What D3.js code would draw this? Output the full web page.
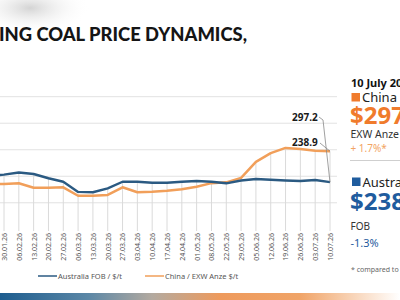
<!DOCTYPE html>
<html>
<head>
<meta charset="utf-8">
<script src="https://cdn.jsdelivr.net/npm/d3@7"></script>
<style>
  body { margin: 0; background: #fff; }
  svg { display: block; }
</style>
</head>
<body>
<div id="coal-chart"></div>
<script>
// Weekly dates (the first one sits just off the left edge of the crop)
const dates = ["23.01.26", "30.01.26", "06.02.26", "13.02.26", "20.02.26", "27.02.26",
  "06.03.26", "13.03.26", "20.03.26", "27.03.26", "03.04.26", "10.04.26", "17.04.26",
  "24.04.26", "01.05.26", "08.05.26", "22.05.26", "29.05.26", "05.06.26", "12.06.26",
  "19.06.26", "26.06.26", "03.07.26", "10.07.26"];

const australiaFob = [251, 253, 257, 254.3, 246.2, 239.7, 220.5, 219.8, 227.3, 239.7,
  239.7, 237.9, 237.9, 239.7, 241, 239.7, 236.7, 242, 244.8, 243.3, 242, 241, 243, 238.9];

const chinaAnze = [235.4, 235.4, 236.7, 228.4, 228.4, 229.2, 213.3, 213.3, 214.7, 229.2,
  219.8, 220.9, 222.8, 225.4, 230.3, 237, 238.5, 247, 277, 293.5, 303.5, 301.4, 298.2, 297.2];

const yTicks = [200, 250, 300, 350, 400];
const lastLabels = ["297.2", "238.9"];

const seriesNames = ["Australia FOB / $/t", "China / EXW Anze $/t"];

const width = 400;
const height = 300;

const svg = d3.select("#coal-chart")
  .append("svg")
  .attr("width", width)
  .attr("height", height);

const defs = svg.append("defs");

// smoky gray patch top-left
const smoke = defs.append("radialGradient").attr("id", "smoke");
smoke.append("stop").attr("offset", "0%").attr("stop-color", "#c9c9c9").attr("stop-opacity", 0.8);
smoke.append("stop").attr("offset", "100%").attr("stop-color", "#ffffff").attr("stop-opacity", 0);

svg.append("ellipse")
  .attr("cx", 30).attr("cy", 8)
  .attr("rx", 60).attr("ry", 26)
  .attr("fill", "url(#smoke)");

// bottom colour band
const band = defs.append("linearGradient").attr("id", "band");
band.append("stop").attr("offset", "0%").attr("stop-color", "#1d5d8f");
band.append("stop").attr("offset", "22%").attr("stop-color", "#5b87a6");
band.append("stop").attr("offset", "38%").attr("stop-color", "#b3aaa0");
band.append("stop").attr("offset", "55%").attr("stop-color", "#ee9a5c");
band.append("stop").attr("offset", "75%").attr("stop-color", "#f0a468");
band.append("stop").attr("offset", "100%").attr("stop-color", "#ffffff");

svg.append("rect")
  .attr("x", 0).attr("y", 293)
  .attr("width", width).attr("height", 7)
  .attr("fill", "url(#band)");

// Title (cropped on the left in the original)
svg.append("text")
  .attr("x", -1)
  .attr("y", 41)
  .attr("font-family", "Lato, sans-serif")
  .attr("font-weight", 900)
  .attr("font-size", "19px")
  .attr("fill", "#151515")
  .attr("textLength", 248)
  .attr("lengthAdjust", "spacingAndGlyphs")
  .text("ING COAL PRICE DYNAMICS,");

// Scales
const x = d3.scalePoint()
  .domain(dates)
  .range([4 - 326 / 22, 330]);

const y = d3.scaleLinear()
  .domain([150, 400])
  .range([229.3, 96.7]);

const plotBottom = 231;

// Horizontal gridlines
svg.append("g")
  .selectAll("line")
  .data(yTicks)
  .enter().append("line")
  .attr("x1", 0)
  .attr("x2", 337)
  .attr("y1", d => y(d))
  .attr("y2", d => y(d))
  .attr("stroke", "#e2e2e2")
  .attr("stroke-width", 1);

// Drop lines from the upper series down to the axis
svg.append("g")
  .selectAll("line")
  .data(dates)
  .enter().append("line")
  .attr("x1", d => x(d))
  .attr("x2", d => x(d))
  .attr("y1", (d, i) => y(Math.max(australiaFob[i], chinaAnze[i])))
  .attr("y2", plotBottom)
  .attr("stroke", "#dadada")
  .attr("stroke-width", 1);

// X axis with rotated labels
const xAxis = svg.append("g")
  .attr("transform", `translate(0,${plotBottom})`)
  .call(d3.axisBottom(x).tickSize(0).tickPadding(0));

xAxis.select(".domain").remove();
xAxis.selectAll("text")
  .attr("transform", "rotate(-90)")
  .attr("x", -2)
  .attr("y", 0)
  .attr("dy", "0.35em")
  .style("text-anchor", "end")
  .attr("font-family", "'Noto Sans', sans-serif")
  .attr("font-size", "7px")
  .attr("fill", "#555");

// Lines
const line = d3.line()
  .x(d => x(d.date))
  .y(d => y(d.value));

const chinaData = dates.map((d, i) => ({ date: d, value: chinaAnze[i] }));
const ausData = dates.map((d, i) => ({ date: d, value: australiaFob[i] }));

svg.append("path")
  .datum(chinaData)
  .attr("fill", "none")
  .attr("stroke", "#f19f5a")
  .attr("stroke-width", 2.5)
  .attr("stroke-linejoin", "round")
  .attr("d", line);

svg.append("path")
  .datum(ausData)
  .attr("fill", "none")
  .attr("stroke", "#2b5a82")
  .attr("stroke-width", 2.4)
  .attr("stroke-linejoin", "round")
  .attr("d", line);

// End labels with leader lines (as drawn in the original)
const lastDate = dates[dates.length - 1];
const lastX = x(lastDate);

svg.append("path")
  .attr("d", `M319,117 L323,120 L${lastX},${y(australiaFob[australiaFob.length - 1])}`)
  .attr("fill", "none")
  .attr("stroke", "#888")
  .attr("stroke-width", 0.8);

svg.append("path")
  .attr("d", `M320,143 L${lastX},${y(chinaAnze[chinaAnze.length - 1])}`)
  .attr("fill", "none")
  .attr("stroke", "#888")
  .attr("stroke-width", 0.8);

svg.append("text")
  .attr("x", 292)
  .attr("y", 121)
  .attr("font-family", "'Noto Sans', sans-serif")
  .attr("font-weight", "bold")
  .attr("font-size", "10px")
  .attr("fill", "#1a1a1a")
  .text(lastLabels[0]);

svg.append("text")
  .attr("x", 292)
  .attr("y", 146)
  .attr("font-family", "'Noto Sans', sans-serif")
  .attr("font-weight", "bold")
  .attr("font-size", "10px")
  .attr("fill", "#1a1a1a")
  .text(lastLabels[1]);

// Legend
const legend = svg.append("g")
  .attr("transform", "translate(38,276)");

legend.append("line")
  .attr("x1", 0).attr("x2", 19)
  .attr("y1", 0).attr("y2", 0)
  .attr("stroke", "#2b5a82")
  .attr("stroke-width", 1.5);
legend.append("text")
  .attr("x", 20)
  .attr("y", 2.6)
  .attr("font-family", "'Noto Sans', sans-serif")
  .attr("font-size", "7.5px")
  .attr("fill", "#555")
  .text(seriesNames[0]);

legend.append("line")
  .attr("x1", 107).attr("x2", 126)
  .attr("y1", 0).attr("y2", 0)
  .attr("stroke", "#f19f5a")
  .attr("stroke-width", 1.5);
legend.append("text")
  .attr("x", 127)
  .attr("y", 2.6)
  .attr("font-family", "'Noto Sans', sans-serif")
  .attr("font-size", "7.5px")
  .attr("fill", "#555")
  .text(seriesNames[1]);

// Right-hand summary panel
const panel = svg.append("g")
  .attr("transform", "translate(350,0)");

panel.append("text")
  .attr("x", 1).attr("y", 87)
  .attr("font-family", "'Noto Sans', sans-serif")
  .attr("font-weight", "bold")
  .attr("font-size", "11px")
  .attr("fill", "#111")
  .text("10 July 2026");

panel.append("rect")
  .attr("x", 1.5).attr("y", 93)
  .attr("width", 8.5).attr("height", 8.5)
  .attr("fill", "#f07b2c");

panel.append("text")
  .attr("x", 12).attr("y", 102)
  .attr("font-family", "'Noto Sans', sans-serif")
  .attr("font-size", "13px")
  .attr("fill", "#222")
  .text("China");

panel.append("text")
  .attr("x", 0).attr("y", 124)
  .attr("font-family", "'Noto Sans', sans-serif")
  .attr("font-weight", "bold")
  .attr("font-size", "24px")
  .attr("fill", "#f07b2c")
  .text("$297.2");

panel.append("text")
  .attr("x", 0.5).attr("y", 138)
  .attr("font-family", "'Noto Sans', sans-serif")
  .attr("font-size", "10.5px")
  .attr("fill", "#333")
  .text("EXW Anze $/t");

panel.append("text")
  .attr("x", 0.5).attr("y", 152)
  .attr("font-family", "'Noto Sans', sans-serif")
  .attr("font-size", "10px")
  .attr("fill", "#f2a462")
  .text("+ 1.7%*");

panel.append("line")
  .attr("x1", 0).attr("x2", 50)
  .attr("y1", 160.5).attr("y2", 160.5)
  .attr("stroke", "#cfcfcf")
  .attr("stroke-width", 1);

panel.append("rect")
  .attr("x", 2).attr("y", 177.5)
  .attr("width", 8.5).attr("height", 8.5)
  .attr("fill", "#1f5c9e");

panel.append("text")
  .attr("x", 12.5).attr("y", 186.5)
  .attr("font-family", "'Noto Sans', sans-serif")
  .attr("font-size", "13px")
  .attr("fill", "#222")
  .text("Australia");

panel.append("text")
  .attr("x", 0).attr("y", 210)
  .attr("font-family", "'Noto Sans', sans-serif")
  .attr("font-weight", "bold")
  .attr("font-size", "24px")
  .attr("fill", "#1f5c9e")
  .text("$238.9");

panel.append("text")
  .attr("x", 0.5).attr("y", 230)
  .attr("font-family", "'Noto Sans', sans-serif")
  .attr("font-size", "10px")
  .attr("fill", "#333")
  .text("FOB");

panel.append("text")
  .attr("x", 0.5).attr("y", 247)
  .attr("font-family", "'Noto Sans', sans-serif")
  .attr("font-size", "11px")
  .attr("fill", "#1f5c9e")
  .text("-1.3%");

panel.append("text")
  .attr("x", 1).attr("y", 272)
  .attr("font-family", "'Noto Sans', sans-serif")
  .attr("font-size", "7px")
  .attr("fill", "#666")
  .text("* compared to previous week");
</script>
</body>
</html>
